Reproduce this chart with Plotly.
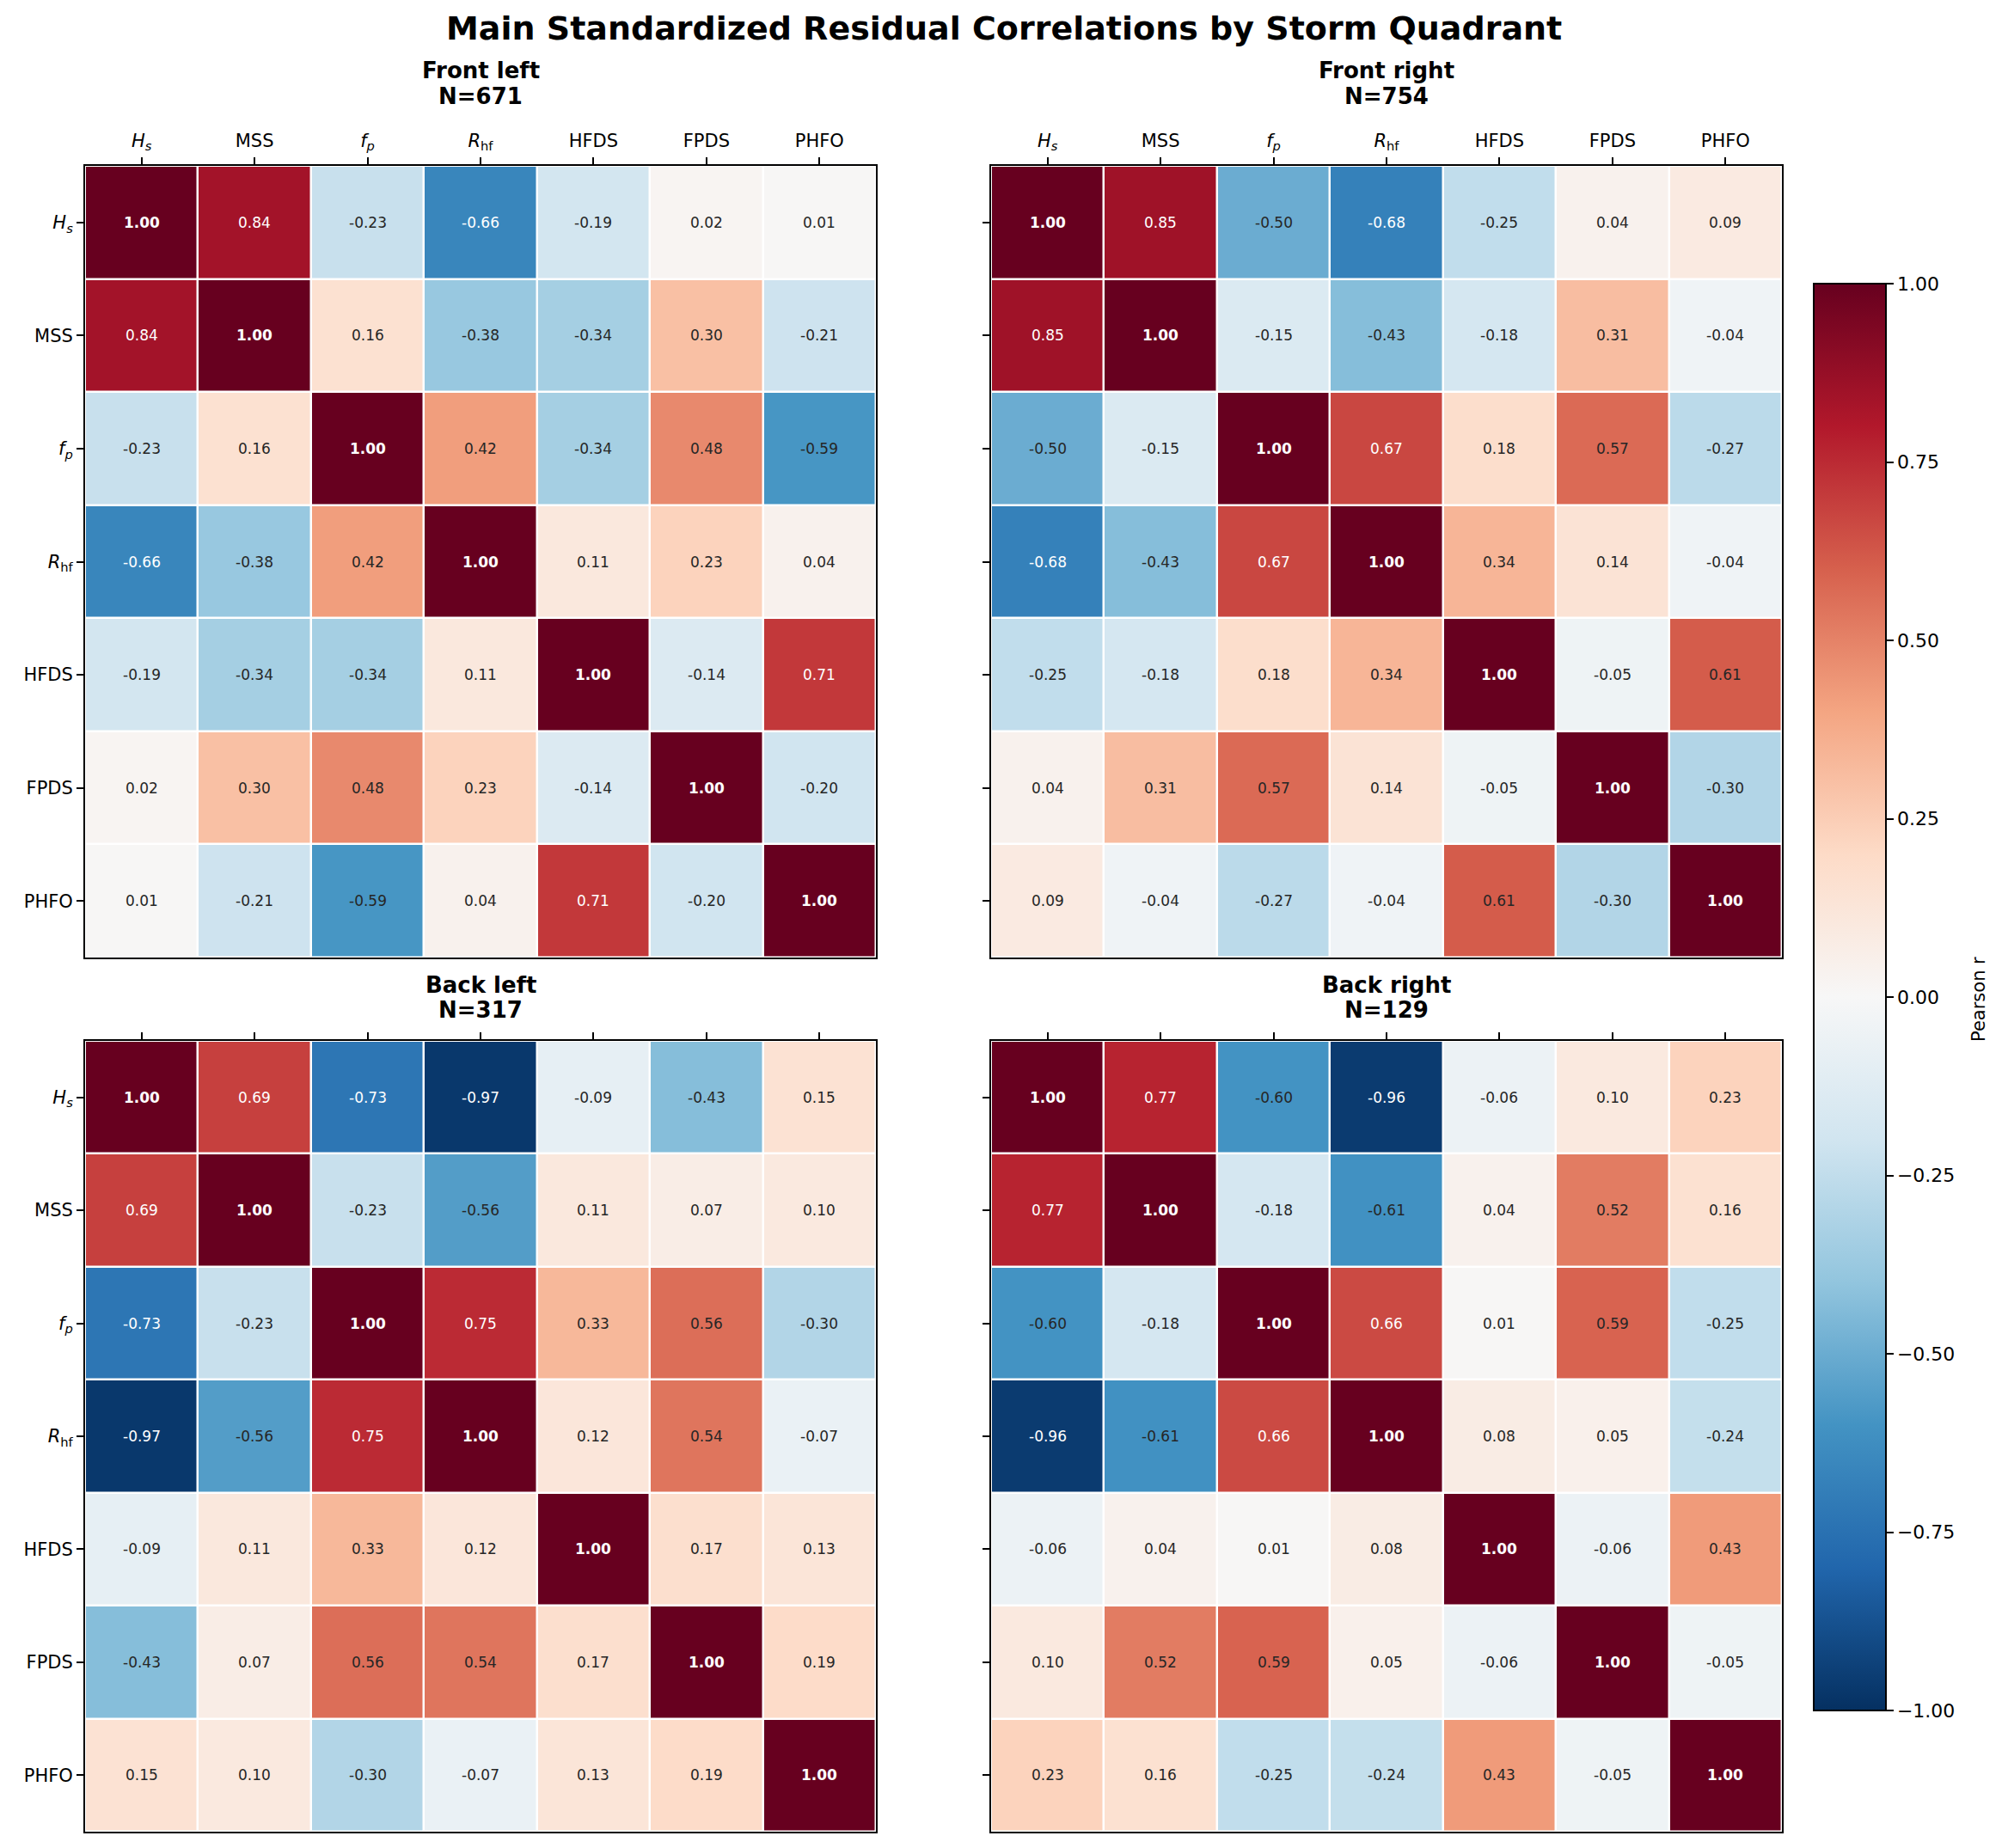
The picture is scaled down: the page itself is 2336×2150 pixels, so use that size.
import plotly.graph_objects as go

# ---------------- data ----------------
variables = ["<i>H</i><sub><i>s</i></sub>", "MSS", "<i>f</i><sub><i>p</i></sub>",
             "<i>R</i><sub>hf</sub>", "HFDS", "FPDS", "PHFO"]
quadrants = ["Front left", "Front right", "Back left", "Back right"]
sample_sizes = [671, 754, 317, 129]

front_left = [
    [1.00, 0.84, -0.23, -0.66, -0.19, 0.02, 0.01],
    [0.84, 1.00, 0.16, -0.38, -0.34, 0.30, -0.21],
    [-0.23, 0.16, 1.00, 0.42, -0.34, 0.48, -0.59],
    [-0.66, -0.38, 0.42, 1.00, 0.11, 0.23, 0.04],
    [-0.19, -0.34, -0.34, 0.11, 1.00, -0.14, 0.71],
    [0.02, 0.30, 0.48, 0.23, -0.14, 1.00, -0.20],
    [0.01, -0.21, -0.59, 0.04, 0.71, -0.20, 1.00],
]
front_right = [
    [1.00, 0.85, -0.50, -0.68, -0.25, 0.04, 0.09],
    [0.85, 1.00, -0.15, -0.43, -0.18, 0.31, -0.04],
    [-0.50, -0.15, 1.00, 0.67, 0.18, 0.57, -0.27],
    [-0.68, -0.43, 0.67, 1.00, 0.34, 0.14, -0.04],
    [-0.25, -0.18, 0.18, 0.34, 1.00, -0.05, 0.61],
    [0.04, 0.31, 0.57, 0.14, -0.05, 1.00, -0.30],
    [0.09, -0.04, -0.27, -0.04, 0.61, -0.30, 1.00],
]
back_left = [
    [1.00, 0.69, -0.73, -0.97, -0.09, -0.43, 0.15],
    [0.69, 1.00, -0.23, -0.56, 0.11, 0.07, 0.10],
    [-0.73, -0.23, 1.00, 0.75, 0.33, 0.56, -0.30],
    [-0.97, -0.56, 0.75, 1.00, 0.12, 0.54, -0.07],
    [-0.09, 0.11, 0.33, 0.12, 1.00, 0.17, 0.13],
    [-0.43, 0.07, 0.56, 0.54, 0.17, 1.00, 0.19],
    [0.15, 0.10, -0.30, -0.07, 0.13, 0.19, 1.00],
]
back_right = [
    [1.00, 0.77, -0.60, -0.96, -0.06, 0.10, 0.23],
    [0.77, 1.00, -0.18, -0.61, 0.04, 0.52, 0.16],
    [-0.60, -0.18, 1.00, 0.66, 0.01, 0.59, -0.25],
    [-0.96, -0.61, 0.66, 1.00, 0.08, 0.05, -0.24],
    [-0.06, 0.04, 0.01, 0.08, 1.00, -0.06, 0.43],
    [0.10, 0.52, 0.59, 0.05, -0.06, 1.00, -0.05],
    [0.23, 0.16, -0.25, -0.24, 0.43, -0.05, 1.00],
]
matrices = [front_left, front_right, back_left, back_right]

cbar_tickvals = [-1.0, -0.75, -0.5, -0.25, 0.0, 0.25, 0.5, 0.75, 1.0]
cbar_ticktext = ["\u22121.00", "\u22120.75", "\u22120.50", "\u22120.25", "0.00",
                 "0.25", "0.50", "0.75", "1.00"]

# ---------------- style ----------------
OFF = 8  # page body margin
W, H = 2336 - 2 * OFF, 2150 - 2 * OFF
rdbu_r = ['#053061', '#2166ac', '#4393c3', '#92c5de', '#d1e5f0', '#f7f7f7',
          '#fddbc7', '#f4a582', '#d6604d', '#b2182b', '#67001f']
colorscale = [[i / 10, c] for i, c in enumerate(rdbu_r)]

def px_x(p):
    return (p - OFF) / W

def px_y(p):
    return 1 - (p - OFF) / H

col_px = [(99, 1019), (1153, 2073)]
row_px = [(193, 1114), (1211, 2131)]
title_line_px = [(82, 112), (1146, 1175)]

fig = go.Figure()
n = len(variables)
idx = list(range(n))

for k, (name, N, mat) in enumerate(zip(quadrants, sample_sizes, matrices)):
    r, c = divmod(k, 2)
    sfx = "" if k == 0 else str(k + 1)
    xa, ya = "x" + sfx, "y" + sfx
    fig.add_trace(go.Heatmap(
        z=mat, x=idx, y=idx, zmin=-1, zmax=1, colorscale=colorscale,
        xgap=2.5, ygap=2.5, showscale=(k == 0), hoverinfo="skip",
        xaxis=xa, yaxis=ya,
        colorbar=dict(
            thickness=84, thicknessmode="pixels", len=1660, lenmode="pixels",
            x=px_x(2110), xanchor="left", y=px_y(1160), yanchor="middle",
            xpad=0, ypad=0, outlinewidth=2, outlinecolor="black",
            ticks="outside", ticklen=8, tickwidth=2, tickcolor="black",
            tickmode="array", tickvals=cbar_tickvals, ticktext=cbar_ticktext,
            tickfont=dict(size=22, color="black"),
        ),
    ))
    x0, x1 = col_px[c]
    y0, y1 = row_px[r]
    common = dict(tickmode="array", tickvals=idx, ticktext=variables,
                  ticks="outside", ticklen=8, tickwidth=2, tickcolor="black",
                  showline=True, linewidth=2, linecolor="black", mirror=True,
                  showgrid=False, zeroline=False,
                  tickfont=dict(size=21, color="black"))
    fig.layout["xaxis" + sfx] = dict(common, domain=[px_x(x0), px_x(x1)],
                                     range=[-0.5, n - 0.5], side="top",
                                     ticklabelstandoff=4,
                                     showticklabels=(r == 0), anchor=ya)
    fig.layout["yaxis" + sfx] = dict(common, domain=[px_y(y1), px_y(y0)],
                                     range=[n - 0.5, -0.5], side="left",
                                     ticklabelstandoff=0,
                                     showticklabels=(c == 0), anchor=xa)
    for i in range(n):
        for j in range(n):
            v = mat[i][j]
            diag = i == j
            txt = f"{v:.2f}"
            fig.add_annotation(
                x=j, y=i, xref=xa, yref=ya, showarrow=False,
                text=f"<b>{txt}</b>" if diag else txt,
                font=dict(size=17, color="white" if (diag or abs(v) >= 0.65) else "#262626"),
            )
    xc = (px_x(x0) + px_x(x1)) / 2
    for line_txt, ypx in zip([name, f"N={N}"], title_line_px[r]):
        fig.add_annotation(
            x=xc, y=px_y(ypx), xref="paper", yref="paper",
            showarrow=False, yanchor="middle", xanchor="center",
            text=f"<b>{line_txt}</b>", font=dict(size=26, color="black"),
        )

fig.add_annotation(
    x=px_x(1168), y=px_y(33), xref="paper", yref="paper", showarrow=False,
    yanchor="middle", xanchor="center",
    text="<b>Main Standardized Residual Correlations by Storm Quadrant</b>",
    font=dict(size=38, color="black"),
)
fig.add_annotation(
    x=px_x(2302), y=px_y(1163), xref="paper", yref="paper", showarrow=False,
    yanchor="middle", xanchor="center", textangle=-90,
    text="Pearson r", font=dict(size=21, color="black"),
)

fig.update_layout(
    width=W, height=H, autosize=False,
    margin=dict(l=0, r=0, t=0, b=0),
    paper_bgcolor="white", plot_bgcolor="white",
    font=dict(family="DejaVu Sans", color="black"),
    showlegend=False,
)

fig.write_html("out.html")
